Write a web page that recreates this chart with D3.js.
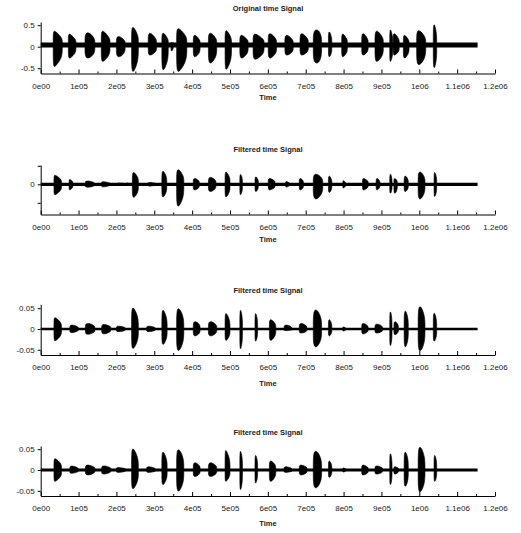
<!DOCTYPE html>
<html>
<head>
<meta charset="utf-8">
<script src="https://cdn.jsdelivr.net/npm/d3@7"></script>
<style>
html,body{margin:0;padding:0;background:#fff;}
svg{display:block;}
</style>
</head>
<body>
<svg id="chart" width="521" height="533"></svg>
<script>
// ---------- data ----------
const xTicks = [0,1e5,2e5,3e5,4e5,5e5,6e5,7e5,8e5,9e5,1e6,1.1e6,1.2e6];
const xTickLabels = ["0e00","1e05","2e05","3e05","4e05","5e05","6e05","7e05","8e05","9e05","1e06","1.1e06","1.2e06"];
const xMinorTicks = [0.5e5,1.5e5,2.5e5,3.5e5,4.5e5,5.5e5,6.5e5,7.5e5,8.5e5,9.5e5,1.05e6,1.15e6];
const signalEnd = 1.154e6;

const titles = ["Original time Signal","Filtered time Signal","Filtered time Signal","Filtered time Signal"];
const xLabel = "Time";

const yTicks1 = [-0.5, 0, 0.5];
const yTickLabels1 = ["-0.5","0","0.5"];
const yTicks2 = [-1, 0, 1];
const yTickLabels2 = ["","0",""];
const yTicks3 = [-0.05, 0, 0.05];
const yTickLabels3 = ["-0.05","0","0.05"];

// noise floor [low, high]
const base1 = [-0.02, 0.10];
const base2 = [-0.09, 0.09];
const base3 = [-0.0028, 0.0028];
const base4 = [-0.0034, 0.0034];

// bursts: [start, peakTime, end, maxAmp, minAmp]
const bursts1 = [
 [33e3,38e3,57e3,0.37,-0.47],[73e3,78e3,93e3,0.30,-0.27],[117e3,130e3,143e3,0.33,-0.27],
 [160e3,166e3,183e3,0.37,-0.35],[200e3,211e3,223e3,0.24,-0.24],[240e3,246e3,258e3,0.46,-0.59],
 [284e3,292e3,306e3,0.32,-0.20],[320e3,326e3,337e3,0.32,-0.55],[344e3,347e3,350e3,0.10,-0.10],
 [359e3,366e3,386e3,0.43,-0.59],[403e3,410e3,421e3,0.27,-0.24],[443e3,452e3,465e3,0.32,-0.39],
 [487e3,492e3,504e3,0.38,-0.54],[526e3,534e3,548e3,0.27,-0.27],[561e3,570e3,590e3,0.30,-0.30],
 [601e3,609e3,623e3,0.31,-0.27],[645e3,654e3,667e3,0.27,-0.20],[685e3,693e3,707e3,0.31,-0.20],
 [720e3,735e3,742e3,0.40,-0.39],[760e3,764e3,769e3,0.35,-0.24],[795e3,800e3,810e3,0.30,-0.24],
 [848e3,854e3,865e3,0.31,-0.20],[883e3,891e3,905e3,0.37,-0.35],[922e3,925e3,930e3,0.40,-0.35],
 [931e3,936e3,947e3,0.31,-0.20],[958e3,963e3,973e3,0.27,-0.27],[993e3,1003e3,1017e3,0.38,-0.43],
 [1037e3,1041e3,1046e3,0.52,-0.50]
];
const bursts2 = [
 [35e3,39e3,55e3,0.50,-0.58],[75e3,78e3,85e3,0.27,-0.31],[118e3,130e3,141e3,0.18,-0.16],
 [161e3,170e3,181e3,0.14,-0.14],[205e3,215e3,230e3,0.06,-0.06],[242e3,248e3,258e3,0.65,-0.72],
 [285e3,292e3,300e3,0.10,-0.10],[320e3,325e3,333e3,0.72,-0.70],[359e3,366e3,378e3,0.81,-1.21],
 [403e3,410e3,419e3,0.32,-0.31],[443e3,452e3,463e3,0.38,-0.40],[487e3,491e3,500e3,0.68,-0.70],
 [526e3,529e3,533e3,0.54,-0.58],[566e3,570e3,575e3,0.41,-0.40],[601e3,608e3,619e3,0.32,-0.31],
 [647e3,651e3,656e3,0.15,-0.15],[683e3,688e3,694e3,0.32,-0.31],[720e3,732e3,745e3,0.56,-0.81],
 [760e3,764e3,769e3,0.45,-0.45],[798e3,801e3,805e3,0.20,-0.20],[850e3,855e3,865e3,0.32,-0.31],
 [886e3,890e3,896e3,0.32,-0.31],[922e3,925e3,928e3,0.56,-0.49],[933e3,937e3,942e3,0.32,-0.50],
 [960e3,965e3,971e3,0.45,-0.40],[997e3,1005e3,1015e3,0.68,-0.81],[1039e3,1042e3,1046e3,0.65,-0.67]
];
const bursts3 = [
 [35e3,39e3,55e3,0.028,-0.029],[77e3,86e3,99e3,0.0096,-0.009],[118e3,130e3,143e3,0.0136,-0.013],
 [161e3,172e3,185e3,0.011,-0.012],[200e3,211e3,223e3,0.007,-0.0065],[240e3,246e3,258e3,0.052,-0.048],
 [280e3,290e3,302e3,0.007,-0.0065],[320e3,325e3,334e3,0.046,-0.038],[359e3,367e3,378e3,0.050,-0.053],
 [403e3,411e3,421e3,0.018,-0.017],[443e3,453e3,465e3,0.018,-0.017],[487e3,491e3,500e3,0.038,-0.028],
 [526e3,529e3,533e3,0.046,-0.049],[566e3,569e3,573e3,0.038,-0.030],[604e3,610e3,621e3,0.023,-0.028],
 [643e3,652e3,663e3,0.0096,-0.004],[683e3,692e3,703e3,0.0136,-0.010],[720e3,731e3,742e3,0.047,-0.044],
 [760e3,764e3,769e3,0.023,-0.017],[798e3,801e3,805e3,0.005,-0.005],[848e3,855e3,865e3,0.0136,-0.012],
 [883e3,892e3,903e3,0.012,-0.010],[922e3,925e3,928e3,0.042,-0.041],[933e3,938e3,945e3,0.018,-0.014],
 [960e3,965e3,971e3,0.044,-0.044],[997e3,1005e3,1015e3,0.055,-0.054],[1037e3,1041e3,1046e3,0.039,-0.030]
];
const bursts4 = [
 [35e3,39e3,55e3,0.028,-0.028],[77e3,86e3,99e3,0.0096,-0.008],[118e3,130e3,143e3,0.012,-0.012],
 [161e3,172e3,185e3,0.010,-0.010],[200e3,211e3,223e3,0.006,-0.006],[240e3,246e3,258e3,0.052,-0.046],
 [280e3,290e3,302e3,0.008,-0.006],[320e3,325e3,334e3,0.044,-0.036],[359e3,367e3,378e3,0.050,-0.052],
 [403e3,411e3,421e3,0.0176,-0.016],[443e3,453e3,465e3,0.0176,-0.016],[487e3,490e3,500e3,0.048,-0.028],
 [526e3,529e3,533e3,0.046,-0.048],[566e3,569e3,573e3,0.036,-0.032],[604e3,610e3,621e3,0.022,-0.028],
 [643e3,652e3,663e3,0.008,-0.006],[683e3,692e3,703e3,0.012,-0.012],[720e3,731e3,742e3,0.046,-0.044],
 [760e3,764e3,769e3,0.022,-0.018],[798e3,801e3,805e3,0.005,-0.005],[848e3,855e3,865e3,0.012,-0.012],
 [883e3,892e3,903e3,0.010,-0.010],[922e3,925e3,928e3,0.040,-0.036],[933e3,938e3,945e3,0.008,-0.010],
 [960e3,965e3,971e3,0.044,-0.040],[997e3,1005e3,1015e3,0.056,-0.054],[1039e3,1042e3,1046e3,0.036,-0.028]
];

// ---------- layout ----------
const plotLeft = 40.7, plotRight = 495;
const panels = [
 {title:titles[0], titleY:8.5,  timeY:97,  axisY:73.5,  topY:22,    yDomain:[-0.623,0.574], yTicks:yTicks1, yLabels:yTickLabels1, base:base1, bursts:bursts1},
 {title:titles[1], titleY:149.5,timeY:239, axisY:214.5, topY:165,   yDomain:[-1.632,1.043], yTicks:yTicks2, yLabels:yTickLabels2, base:base2, bursts:bursts2},
 {title:titles[2], titleY:290,  timeY:383, axisY:355,   topY:304.3, yDomain:[-0.0625,0.0594], yTicks:yTicks3, yLabels:yTickLabels3, base:base3, bursts:bursts3},
 {title:titles[3], titleY:432,  timeY:523, axisY:496,   topY:446,   yDomain:[-0.0624,0.0576], yTicks:yTicks3, yLabels:yTickLabels3, base:base4, bursts:bursts4}
];

const svg = d3.select("#chart");
const x = d3.scaleLinear().domain([0, 1.2e6]).range([plotLeft, plotRight]);
const FONT = "'Liberation Sans', Arial, sans-serif";

panels.forEach(p => {
  const g = svg.append("g");
  const y = d3.scaleLinear().domain(p.yDomain).range([p.axisY, p.topY]);

  // waveform
  const flat = d3.area().x(d => x(d[0])).y0(d => y(d[2])).y1(d => y(d[1]));
  const blob = d3.area().x(d => x(d[0])).y0(d => y(d[2])).y1(d => y(d[1])).curve(d3.curveBasis);
  g.append("path")
    .attr("d", flat([[0, p.base[1], p.base[0]], [signalEnd, p.base[1], p.base[0]]]))
    .attr("fill", "#000");
  g.selectAll("path.burst").data(p.bursts).join("path")
    .attr("class", "burst")
    .attr("d", b => blob([
      [b[0], p.base[1], p.base[0]],
      [b[0], b[3], b[4]],
      [b[1], b[3], b[4]],
      [b[2], b[3] * 0.55, b[4] * 0.55],
      [b[2], p.base[1], p.base[0]]
    ]))
    .attr("fill", "#000").attr("stroke", "#000").attr("stroke-width", 0.6);

  // x axis
  const xAxis = d3.axisBottom(x).tickValues(xTicks)
    .tickFormat((d, i) => xTickLabels[i])
    .tickSizeInner(-4).tickSizeOuter(0).tickPadding(9.5);
  const gx = g.append("g").attr("transform", `translate(0,${p.axisY})`).call(xAxis);
  gx.selectAll("text").attr("font-family", FONT).attr("font-size", 8).attr("fill", "#222");
  const xMinor = d3.axisBottom(x).tickValues(xMinorTicks).tickFormat("")
    .tickSizeInner(-2).tickSizeOuter(0);
  const gxm = g.append("g").attr("transform", `translate(0,${p.axisY})`).call(xMinor);
  gxm.select(".domain").remove();

  // y axis
  const yAxis = d3.axisLeft(y).tickValues(p.yTicks)
    .tickFormat((d, i) => p.yLabels[i])
    .tickSizeInner(3).tickSizeOuter(0).tickPadding(3);
  const gy = g.append("g").attr("transform", `translate(${plotLeft},0)`).call(yAxis);
  gy.selectAll("text").attr("font-family", FONT).attr("font-size", 8).attr("fill", "#222");

  [gx, gxm, gy].forEach(a => a.selectAll("line,path").attr("stroke", "#000").attr("stroke-width", 1));

  // titles
  g.append("text").attr("x", 268).attr("y", p.titleY).attr("dy", "0.35em")
    .attr("text-anchor", "middle").attr("font-family", FONT).attr("font-size", 7.5)
    .attr("font-weight", "bold").attr("fill", "#222").text(p.title);
  g.append("text").attr("x", 268).attr("y", p.timeY).attr("dy", "0.35em")
    .attr("text-anchor", "middle").attr("font-family", FONT).attr("font-size", 7.5)
    .attr("font-weight", "bold").attr("fill", "#222").text(xLabel);
});
</script>
</body>
</html>
